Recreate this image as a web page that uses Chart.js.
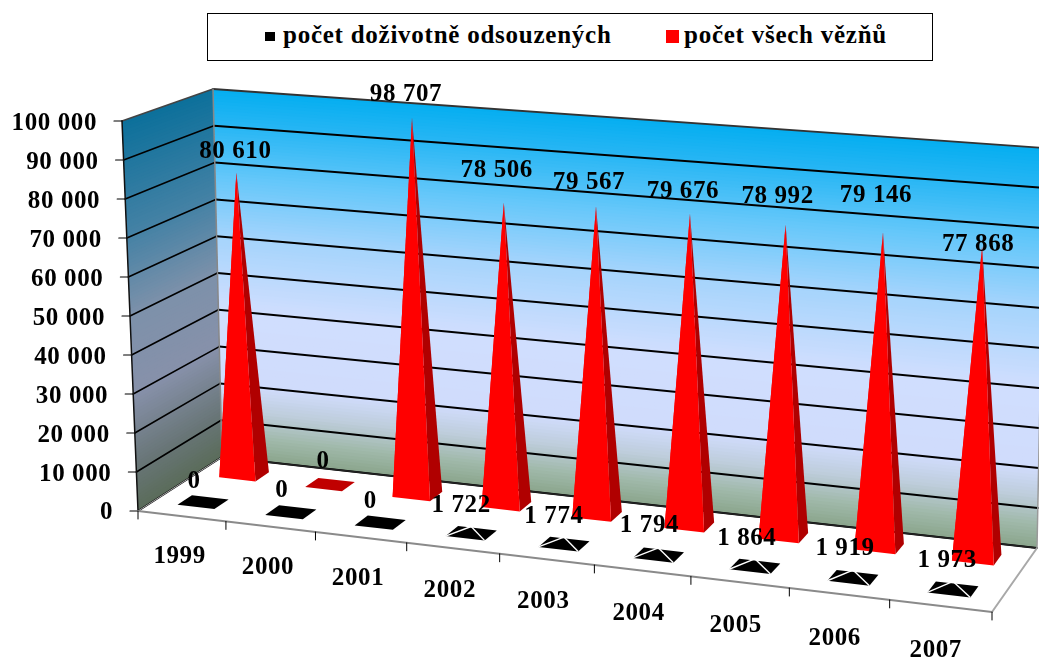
<!DOCTYPE html>
<html>
<head>
<meta charset="utf-8">
<script src="https://cdn.jsdelivr.net/npm/chart.js@4"></script>
<style>
    html, body { margin: 0; background: #fff; }
    #chart { position: absolute; left: 0; top: 0; }
    #legend {
        position: absolute; left: 207px; top: 13px; width: 724px; height: 46px;
        border: 1.5px solid #000; background: #fff;
        font: bold 25px "Liberation Serif", serif; letter-spacing: 0.75px; white-space: nowrap;
    }
    #legend span { position: absolute; top: 7px; }
    #legend i { position: absolute; }
</style>
</head>
<body>
<canvas id="chart" width="1039" height="658"></canvas>
<div id="legend">
    <i style="left:57px;top:18px;width:10px;height:9px;background:#000"></i>
    <span id="leg0" style="left:75px"></span>
    <i style="left:458px;top:16px;width:13px;height:13px;background:#f00"></i>
    <span id="leg1" style="left:476px"></span>
</div>
<script>
const years = ["1999", "2000", "2001", "2002", "2003", "2004", "2005", "2006", "2007"];
const lifers = [0, 0, 0, 1722, 1774, 1794, 1864, 1919, 1973];
const prisoners = [80610, 0, 98707, 78506, 79567, 79676, 78992, 79146, 77868];
const seriesNames = ["počet doživotně odsouzených", "počet všech vězňů"];

// label shifts from the pyramid tip, Excel had them moved by hand
const lifersNudge = [[-9, -20], [-9, -22], [-10, -21], [-10, -21], [-10, -21], [-9, -22], [-8, -20], [-8, -21], [-6, -21]];
const prisonersNudge = [[-1, -21], [-7, -23], [-6, -23], [-7, -32], [-7, -24], [-7, -22], [-8, -28], [-7, -37], [-4, -1]];

const FONT = 'bold 25px "Liberation Serif", serif';

// corners: front left, front right, back right, back left
const floorQuad = [[138, 511], [992, 612], [1037, 548], [222, 457]];
// what full height (100 000) adds to each of those corners
const riseQuad = [[-16, -390], [8, -408], [8, -400], [-9, -368]];

function quadMap(p) {
    const [[x0, y0], [x1, y1], [x2, y2], [x3, y3]] = p;
    const dx1 = x1 - x2, dx2 = x3 - x2, sx = x0 - x1 + x2 - x3;
    const dy1 = y1 - y2, dy2 = y3 - y2, sy = y0 - y1 + y2 - y3;
    const den = dx1 * dy2 - dx2 * dy1;
    const g = (sx * dy2 - dx2 * sy) / den;
    const h = (dx1 * sy - sx * dy1) / den;
    const a = x1 - x0 + g * x1, b = x3 - x0 + h * x3;
    const d = y1 - y0 + g * y1, e = y3 - y0 + h * y3;
    return (u, w) => {
        const q = g * u + h * w + 1;
        return [(a * u + b * w + x0) / q, (d * u + e * w + y0) / q];
    };
}
const floorAt = quadMap(floorQuad);

function riseAt(u, w) {
    return [0, 1].map(k => {
        const front = riseQuad[0][k] + (riseQuad[1][k] - riseQuad[0][k]) * u;
        const back = riseQuad[3][k] + (riseQuad[2][k] - riseQuad[3][k]) * u;
        return front + (back - front) * w;
    });
}

// u along the years, w into the depth, v height 0..1
function project(u, w, v) {
    const f = floorAt(u, w), r = riseAt(u, w);
    return [f[0] + r[0] * v, f[1] + r[1] * v];
}

function poly(ctx, pts, fill) {
    ctx.beginPath();
    pts.forEach((p, i) => i ? ctx.lineTo(p[0], p[1]) : ctx.moveTo(p[0], p[1]));
    ctx.closePath();
    ctx.fillStyle = fill;
    ctx.fill();
}

function line(ctx, a, b, color, width) {
    ctx.beginPath();
    ctx.moveTo(a[0], a[1]);
    ctx.lineTo(b[0], b[1]);
    ctx.strokeStyle = color;
    ctx.lineWidth = width;
    ctx.stroke();
}

const backStops = [[0, [138, 165, 140]], [0.06, [160, 185, 170]], [0.13, [190, 205, 220]], [0.2, [208, 220, 252]], [0.4, [208, 222, 254]], [0.6, [165, 212, 252]], [0.75, [105, 200, 250]], [0.9, [40, 182, 244]], [1, [5, 174, 240]]];
const sideStops = [[0, [90, 108, 90]], [0.12, [105, 118, 120]], [0.3, [135, 145, 170]], [0.5, [125, 145, 170]], [0.7, [70, 130, 165]], [1, [12, 112, 155]]];

function stopColor(stops, v) {
    let i = 0;
    while (i < stops.length - 2 && v > stops[i + 1][0]) i++;
    const [a, ca] = stops[i], [b, cb] = stops[i + 1];
    const t = (v - a) / (b - a);
    return "rgb(" + ca.map((c, k) => Math.round(c + (cb[k] - c) * t)).join(",") + ")";
}

function drawWall(ctx, from, to, stops) {
    const n = 120;
    for (let i = 0; i < n; i++) {
        const v0 = i / n, v1 = Math.min(1, (i + 1.6) / n);
        poly(ctx, [project(from[0], from[1], v0), project(to[0], to[1], v0), project(to[0], to[1], v1), project(from[0], from[1], v1)], stopColor(stops, (i + 0.5) / n));
    }
}

const box3d = {
    id: "box3d",
    beforeDatasetsDraw(chart) {
        const ctx = chart.ctx, y = chart.scales.y, area = chart.chartArea;
        ctx.save();
        ctx.letterSpacing = "0.6px";
        poly(ctx, [floorAt(0, 0), floorAt(1, 0), floorAt(1, 1), floorAt(0, 1)], "#fff");
        drawWall(ctx, [0, 1], [1, 1], backStops);
        drawWall(ctx, [0, 0], [0, 1], sideStops);

        ctx.lineCap = "round";
        y.ticks.forEach(t => {
            const v = (area.bottom - y.getPixelForValue(t.value)) / area.height;
            const a = project(0, 0, v), b = project(0, 1, v), c = project(1, 1, v);
            if (t.value === 100000) {
                line(ctx, a, b, "#444", 1.5);
                line(ctx, b, c, "#333", 1.8);
            } else {
                line(ctx, a, b, "#000", 1.6);
                line(ctx, b, c, "#000", 2);
            }
            line(ctx, [a[0] - 8, a[1]], a, "#000", 1.2);
            ctx.font = FONT;
            ctx.fillStyle = "#000";
            ctx.textAlign = "right";
            ctx.textBaseline = "middle";
            ctx.fillText(t.label, a[0] - 25, y.getPixelForValue(t.value) + 2);
        });

        // wall and floor edges
        line(ctx, project(0, 0, 0), project(0, 0, 1), "#111", 1.5);
        line(ctx, project(0, 1, 0), project(0, 1, 1), "#888", 1.5);
        line(ctx, project(1, 1, 0), project(1, 1, 1), "#999", 1.5);
        line(ctx, project(0, 1, 0), project(1, 1, 0), "#222", 1.5);
        line(ctx, project(0, 0, 0), project(0, 1, 0), "#aaa", 1);
        line(ctx, floorAt(0, 0), floorAt(1, 0), "#8a8a8a", 2);
        line(ctx, floorAt(1, 0), floorAt(1, 1), "#a8a8a8", 2);

        // ticks and year labels below the front edge
        for (let i = 0; i <= years.length; i++) {
            const p = floorAt(i / years.length, 0);
            line(ctx, p, [p[0], p[1] + 8], "#000", 1);
        }
        const x = chart.scales.x;
        years.forEach((name, i) => {
            const u = (x.getPixelForValue(i) - area.left) / area.width;
            const p = floorAt(u, 0);
            ctx.textAlign = "center";
            ctx.fillText(name, p[0] - 2 - 3 * u, p[1] + 40 + 5 * u);
        });
        ctx.restore();
    }
};

const pyramids = {
    id: "pyramids",
    afterDatasetsDraw(chart) {
        const ctx = chart.ctx, x = chart.scales.x, y = chart.scales.y, area = chart.chartArea;
        const du = 0.0235, dw = 0.085;
        const rows = [0.25, 0.75];
        const uOf = i => (x.getPixelForValue(i) - area.left) / area.width;
        const vOf = val => (area.bottom - y.getPixelForValue(val)) / area.height;

        ctx.save();
        ctx.lineJoin = "round";
        // back row first
        [1, 0].forEach(ds => {
            const w = rows[ds];
            chart.data.datasets[ds].data.forEach((val, i) => {
                const u = uOf(i);
                const a = floorAt(u - du, w - dw), b = floorAt(u + du, w - dw);
                const c = floorAt(u + du, w + dw), e = floorAt(u - du, w + dw);
                const tip = project(u, w, vOf(val));
                if (ds === 1) {
                    if (val === 0) {
                        poly(ctx, [a, b, c, e], "#c00000");
                    } else {
                        poly(ctx, [e, a, tip], "#f00");
                        poly(ctx, [b, c, tip], "#b00000");
                        poly(ctx, [a, b, tip], "#f00");
                    }
                } else {
                    poly(ctx, [a, b, c, e], "#000");
                    if (val > 0) {
                        line(ctx, a, tip, "#fff", 1.4);
                        line(ctx, b, tip, "#fff", 1.4);
                    }
                }
            });
        });

        ctx.letterSpacing = "0.6px";
        ctx.font = FONT;
        ctx.fillStyle = "#000";
        ctx.textAlign = "center";
        ctx.textBaseline = "middle";
        const fmt = v => String(v).replace(/\B(?=(\d{3})+$)/g, " ");
        [[0, lifersNudge], [1, prisonersNudge]].forEach(([ds, nudge]) => {
            chart.data.datasets[ds].data.forEach((val, i) => {
                const tip = project(uOf(i), rows[ds], vOf(val));
                ctx.fillText(fmt(val), tip[0] + nudge[i][0], tip[1] + nudge[i][1]);
            });
        });
        ctx.restore();
    }
};

document.getElementById("leg0").textContent = seriesNames[0];
document.getElementById("leg1").textContent = seriesNames[1];

new Chart(document.getElementById("chart").getContext("2d"), {
    type: "bar",
    data: {
        labels: years,
        datasets: [
            { label: seriesNames[0], data: lifers, backgroundColor: "transparent" },
            { label: seriesNames[1], data: prisoners, backgroundColor: "transparent" }
        ]
    },
    options: {
        animation: false,
        responsive: false,
        layout: { padding: { left: 138, right: 47, top: 122, bottom: 147 } },
        plugins: { legend: { display: false }, tooltip: { enabled: false } },
        scales: {
            x: { display: false },
            y: {
                display: false,
                min: 0,
                max: 100000,
                ticks: {
                    stepSize: 10000,
                    callback: v => String(v).replace(/\B(?=(\d{3})+$)/g, " ")
                }
            }
        }
    },
    plugins: [box3d, pyramids]
});
</script>
</body>
</html>
